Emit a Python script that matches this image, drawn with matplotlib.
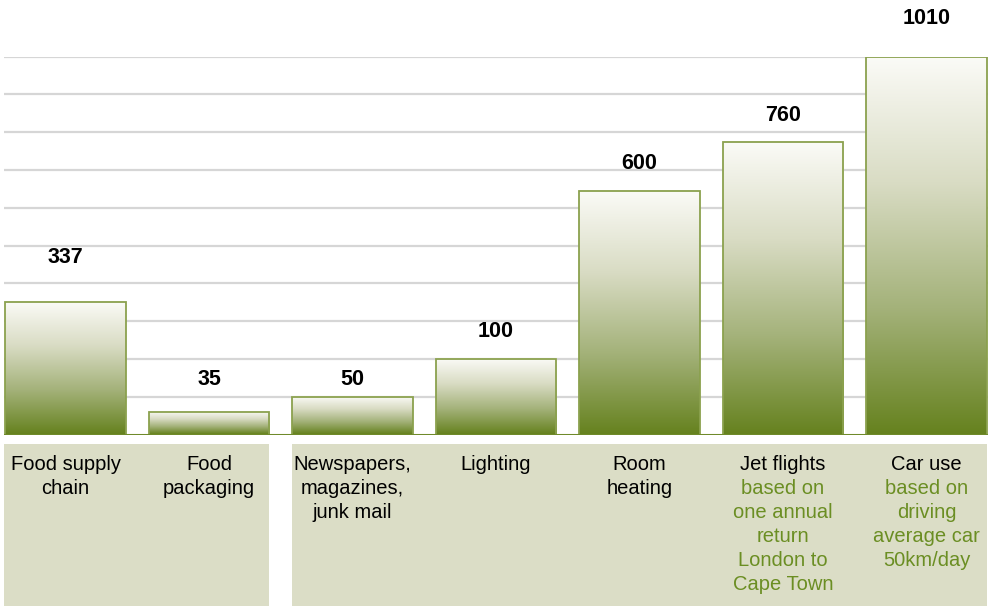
import numpy as np
import matplotlib
matplotlib.use("Agg")
import matplotlib.pyplot as plt
from matplotlib.patches import Rectangle
from matplotlib.colors import LinearSegmentedColormap
import matplotlib.transforms as mtransforms

# ---- data ----
categories = ["Food supply\nchain", "Food\npackaging", "Newspapers,\nmagazines,\njunk mail",
              "Lighting", "Room\nheating", "Jet flights", "Car use"]
notes = ["", "", "", "", "",
         "based on\none annual\nreturn\nLondon to\nCape Town",
         "based on\ndriving\naverage car\n50km/day"]
value_labels = ["337", "35", "50", "100", "600", "760", "1010"]
bar_heights = [351, 59, 99, 199, 644, 774, 1000]   # as drawn on the chart's grid
grid_levels = [100, 200, 300, 400, 500, 600, 700, 800, 900, 1000]

# ---- styles ----
label_offsets_px = [44, 33, 18, 28, 28, 27, 38]
W, H = 993, 606
plt.rcParams['font.family'] = ['Liberation Sans', 'DejaVu Sans']

fig = plt.figure(figsize=(W / 100, H / 100), dpi=100)
fig.patch.set_facecolor('white')

# label panels (drawn beneath everything)
panel_color = '#DBDDC6'
panel_top = H - 444
fig.patches.append(Rectangle((4 / W, 0), (269 - 4) / W, panel_top / H,
                             transform=fig.transFigure, facecolor=panel_color, edgecolor='none', zorder=-5))
fig.patches.append(Rectangle((292 / W, 0), (987 - 292) / W, panel_top / H,
                             transform=fig.transFigure, facecolor=panel_color, edgecolor='none', zorder=-5))

base_px = 434.5
top_px = 56.7
ax = fig.add_axes([4 / W, (H - base_px) / H, 984 / W, (base_px - top_px) / H])
ax.set_facecolor('none')
ax.set_zorder(1)
for s in ax.spines.values():
    s.set_visible(False)
ax.set_xticks([])
ax.set_yticks([])

for g in grid_levels:
    ax.axhline(g, color='#D6D6D6', lw=1.6, zorder=0)

cmap = LinearSegmentedColormap.from_list('olive', ['#FBFBF7', '#D9DCC4', '#A4B27A', '#66821F'])
grad = np.linspace(0, 1, 256).reshape(-1, 1)
bw = 0.843
x = np.arange(len(bar_heights))
for i, h in zip(x, bar_heights):
    ax.imshow(grad, cmap=cmap, aspect='auto', extent=(i - bw / 2, i + bw / 2, 0, h),
              origin='upper', zorder=2, interpolation='bilinear')
    ax.add_patch(Rectangle((i - bw / 2, 0), bw, h, fill=False, edgecolor='#8BA14E', lw=1.3, zorder=3))

ax.axhline(0, color='#6F8A2A', lw=2.2, zorder=4)
ax.set_xlim(-0.4286, 6.4286)
ax.set_ylim(0, 1000)

for i, (h, lab, off) in enumerate(zip(bar_heights, value_labels, label_offsets_px)):
    ax.annotate(lab, xy=(i, h), xytext=(0, off * 0.72), textcoords='offset points',
                ha='center', va='center', fontsize=15.5, fontweight='bold',
                color='black', annotation_clip=False)

trans = mtransforms.blended_transform_factory(ax.transData, fig.transFigure)
first_line_px = 465
line_step = 24
for i, (cat, note) in enumerate(zip(categories, notes)):
    lines = [(t, 'black') for t in cat.split('\n')]
    if note:
        lines += [(t, '#6B8E23') for t in note.split('\n')]
    for k, (t, c) in enumerate(lines):
        y = first_line_px + k * line_step
        ax.text(i, 1 - y / H, t, transform=trans, ha='center', va='center',
                fontsize=14.5, color=c, clip_on=False, zorder=10)

fig.savefig('out.png', dpi=100)
